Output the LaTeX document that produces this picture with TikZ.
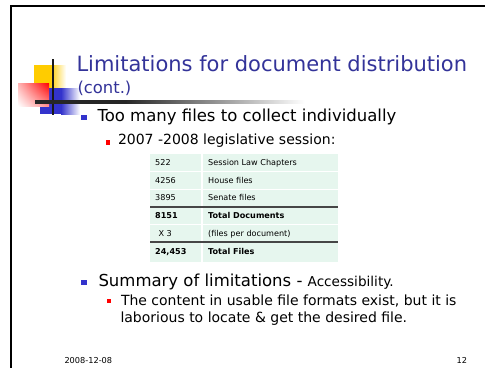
\documentclass[tikz,border=0pt]{standalone}
\usepackage{fontspec}
\setmainfont{DejaVu Sans}
\usetikzlibrary{positioning,shadings}

\definecolor{titleblue}{RGB}{51,51,153}
\definecolor{bulletblue}{RGB}{51,51,204}
\definecolor{bulletred}{RGB}{255,0,0}
\definecolor{logoyellow}{RGB}{255,204,0}
\definecolor{tablefill}{RGB}{230,246,238}
\definecolor{ruledark}{RGB}{70,70,70}

\tikzset{
  txt/.style={anchor=base west, inner sep=0pt, outer sep=0pt},
  txtr/.style={anchor=base east, inner sep=0pt, outer sep=0pt},
  titlefont/.style={font=\fontsize{21}{25}\selectfont, text=titleblue},
  subtitlefont/.style={font=\fontsize{16.4}{20}\selectfont, text=titleblue},
  levelone/.style={font=\fontsize{16.5}{20}\selectfont},
  leveltwo/.style={font=\fontsize{14}{17}\selectfont},
  footfont/.style={font=\fontsize{8.2}{10}\selectfont},
  cellfont/.style={font=\fontsize{8.1}{10}\selectfont, anchor=base west, inner sep=0pt},
  cellbold/.style={cellfont, font=\fontsize{8.1}{10}\selectfont\bfseries},
  bulletone/.style={rectangle, fill=bulletblue, minimum size=5.5pt, inner sep=0pt, anchor=south west},
  bullettwo/.style={rectangle, fill=bulletred, minimum size=4.5pt, inner sep=0pt, anchor=south west},
}

\begin{document}
\begin{tikzpicture}[x=1pt,y=-1pt]
\useasboundingbox (0,0) rectangle (485,368);
\fill[white] (0,0) rectangle (485,368);

% slide frame (top and left edges)
\fill[black] (10.2,4.8) rectangle (485,6.8);
\fill[black] (10.2,4.8) rectangle (12.2,368);

% corner logo: coloured squares
\fill[logoyellow] (34,65) rectangle (50,88);
\shade[left color=logoyellow, right color=white] (50,65) rectangle (66,88);
\fill[bulletblue] (40,88) rectangle (61,114);
\shade[left color=bulletblue, right color=white] (61,88) rectangle (80,114);
\shade[upper left=red!30, upper right=red, lower left=white, lower right=red!45]
  (18,83) rectangle (49,106);

% logo cross lines
\draw[line width=2pt, black!90] (52.8,59.3) -- (52.8,115);
\fill[black!85] (35,100.2) rectangle (125,103.8);
\shade[left color=black!85, right color=white] (125,100.2) rectangle (305,103.8);

% title
\node[txt, titlefont] (title) at (76.5,71) {Limitations for document distribution};
\node[txt, subtitlefont] (subtitle) at (77.5,93.3) {(cont.)};

% first bullet
\node[bulletone] (b1) at (81,120.3) {};
\node[txt, levelone] (t1) at (97.5,121.7) {Too many files to collect individually};
\node[bullettwo] (b11) at (105.3,144.8) {};
\node[txt, leveltwo] (t11) at (118,144.5) {2007 -2008 legislative session:};

% table of file counts
\fill[tablefill] (150,154) rectangle (338,262);
\foreach \yy in {171.6,189.2,224.4}
  \draw[white, line width=1pt] (150,\yy) -- (338,\yy);
\draw[white, line width=1.2pt] (202,154) -- (202,262);
\draw[ruledark, line width=1.4pt] (150,206.8) -- (338,206.8);
\draw[ruledark, line width=1.4pt] (150,242) -- (338,242);

\node[cellfont] (r1a) at (155,165.7) {522};
\node[cellfont] (r1b) at (208,165.7) {Session Law Chapters};
\node[cellfont] (r2a) at (155,183.3) {4256};
\node[cellfont] (r2b) at (208,183.3) {House files};
\node[cellfont] (r3a) at (155,200.9) {3895};
\node[cellfont] (r3b) at (208,200.9) {Senate files};
\node[cellbold] (r4a) at (155,218.5) {8151};
\node[cellbold] (r4b) at (208,218.5) {Total Documents};
\node[cellfont] (r5a) at (158.3,236.1) {X 3};
\node[cellfont] (r5b) at (208,236.1) {(files per document)};
\node[cellbold] (r6a) at (155,254.6) {24,453};
\node[cellbold] (r6b) at (208,254.6) {Total Files};

% second bullet
\node[bulletone] (b2) at (81,285.3) {};
\node[txt, levelone] (t2) at (98.5,286.7) {Summary of limitations - {\fontsize{13.6}{16}\selectfont Accessibility.}};
\node[bullettwo] (b21) at (106.5,303.5) {};
\node[txt, leveltwo] (t21) at (121,305) {The content in usable file formats exist, but it is};
\node[txt, leveltwo] (t22) at (120.5,322.7) {laborious to locate \& get the desired file.};

% footer
\node[txt, footfont] (date) at (64.5,363.5) {2008-12-08};
\node[txtr, footfont] (page) at (467,363.5) {12};
\end{tikzpicture}
\end{document}
